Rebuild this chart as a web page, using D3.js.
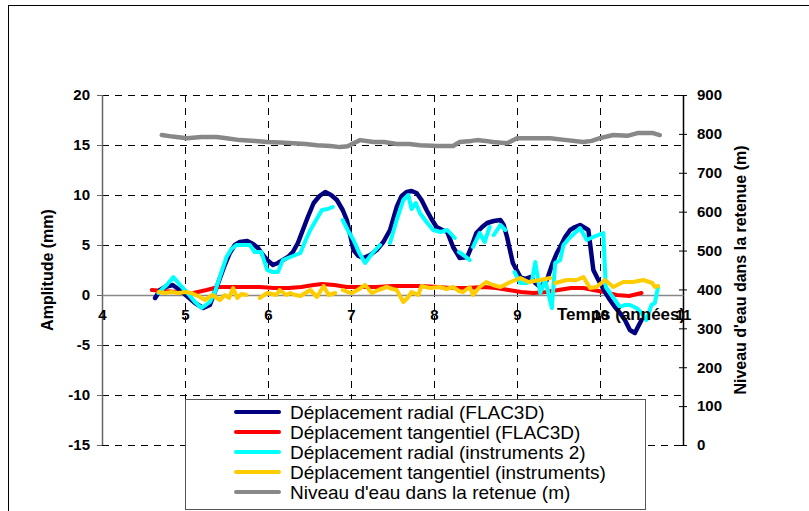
<!DOCTYPE html>
<html>
<head>
<meta charset="utf-8">
<script src="https://cdn.jsdelivr.net/npm/d3@7"></script>
<style>
  html, body { margin: 0; padding: 0; background: #fff; }
  svg { display: block; }
  text { font-family: "Liberation Sans", Arial, sans-serif; }
</style>
</head>
<body>
<svg id="chart" width="809" height="511"></svg>
<script>
// ---------------- DATA ----------------
const xTicks = [4, 5, 6, 7, 8, 9, 10, 11];
const yLeftTicks = [-15, -10, -5, 0, 5, 10, 15, 20];
const yRightTicks = [0, 100, 200, 300, 400, 500, 600, 700, 800, 900];

const seriesNames = [
  "Déplacement radial (FLAC3D)",
  "Déplacement tangentiel (FLAC3D)",
  "Déplacement radial (instruments 2)",
  "Déplacement tangentiel (instruments)",
  "Niveau d'eau dans la retenue (m)"
];
const seriesColors = ["#000080", "#ff0000", "#00ffff", "#ffcc00", "#888888"];

// Déplacement radial (FLAC3D)
const radialFlacT = [4.64, 4.70, 4.76, 4.85, 4.92, 4.98, 5.05, 5.12, 5.22, 5.30, 5.40, 5.47, 5.54, 5.60, 5.66, 5.75, 5.82, 5.88, 5.94, 5.99, 6.06, 6.12, 6.18, 6.24, 6.30, 6.36, 6.42, 6.48, 6.55, 6.62, 6.69, 6.76, 6.83, 6.90, 6.95, 7.03, 7.09, 7.15, 7.23, 7.31, 7.39, 7.47, 7.55, 7.61, 7.67, 7.73, 7.79, 7.85, 7.91, 7.97, 8.03, 8.10, 8.16, 8.23, 8.31, 8.40, 8.45, 8.51, 8.58, 8.64, 8.72, 8.80, 8.84, 8.88, 8.95, 9.04, 9.10, 9.17, 9.22, 9.28, 9.36, 9.43, 9.48, 9.52, 9.58, 9.64, 9.70, 9.76, 9.86, 9.92, 9.98, 10.06, 10.12, 10.18, 10.24, 10.30, 10.36, 10.42, 10.50];
const radialFlacV = [-0.3, 0.5, 0.8, 1.0, 0.6, 0.2, -0.3, -0.8, -1.3, -1.0, 1.2, 2.8, 4.2, 5.0, 5.3, 5.4, 5.1, 4.7, 4.0, 3.5, 3.0, 3.2, 3.5, 3.8, 4.3, 5.2, 6.5, 7.8, 9.2, 9.9, 10.3, 10.0, 9.5, 8.5, 7.5, 4.5, 3.9, 3.7, 4.0, 4.5, 5.3, 6.5, 8.8, 9.9, 10.3, 10.4, 10.2, 9.5, 8.5, 7.6, 6.8, 6.5, 6.3, 4.8, 3.7, 3.8, 4.8, 6.2, 6.8, 7.2, 7.4, 7.5, 7.0, 5.8, 3.2, 1.8, 1.6, 1.8, 1.2, 0.8, 1.5, 3.2, 4.2, 4.8, 5.8, 6.5, 6.8, 7.0, 6.5, 2.5, 1.5, 0.3, -0.5, -1.2, -1.8, -2.5, -3.5, -3.8, -2.5];

// Déplacement tangentiel (FLAC3D)
const tangFlacT = [4.60, 4.75, 4.90, 5.00, 5.10, 5.26, 5.40, 5.55, 5.70, 5.90, 6.07, 6.25, 6.40, 6.55, 6.65, 6.80, 6.95, 7.10, 7.30, 7.50, 7.67, 7.85, 8.05, 8.20, 8.40, 8.60, 8.75, 8.90, 9.05, 9.20, 9.35, 9.50, 9.65, 9.80, 9.92, 10.05, 10.20, 10.35, 10.50];
const tangFlacV = [0.5, 0.4, 0.3, 0.2, 0.2, 0.5, 0.8, 0.8, 0.8, 0.8, 0.7, 0.7, 0.8, 1.0, 1.1, 1.0, 0.8, 0.8, 0.8, 0.9, 0.9, 0.9, 0.8, 0.7, 0.7, 0.8, 0.7, 0.5, 0.3, 0.2, 0.3, 0.5, 0.7, 0.7, 0.5, 0.3, 0.0, -0.1, 0.2];

// Déplacement radial (instruments 2)  (null = gap)
const radialInstT = [4.68, 4.74, 4.78, 4.86, 4.94, 5.02, 5.12, 5.20, 5.30, 5.36, 5.42, 5.50, 5.56, 5.62, 5.70, 5.78, 5.84, 5.92, 5.99, 6.06, 6.12, 6.18, 6.27, 6.33, 6.39, 6.45, 6.51, 6.58, 6.65, 6.72, 6.78, 6.84, 6.90, 6.96, 7.03, 7.10, 7.17, 7.26, 7.35, 7.41, 7.47, 7.55, 7.63, 7.69, 7.73, 7.78, 7.83, 7.91, 7.99, 8.08, 8.16, 8.25, 8.27, 8.30, 8.37, 8.43, 8.45, 8.47, 8.55, 8.61, 8.67, 8.69, 8.72, 8.80, 8.86, 8.92, 8.97, 9.04, 9.12, 9.18, 9.22, 9.28, 9.34, 9.42, 9.46, 9.52, 9.56, 9.62, 9.67, 9.76, 9.84, 9.92, 10.04, 10.07, 10.12, 10.18, 10.24, 10.30, 10.36, 10.44, 10.50, 10.56, 10.62, 10.66, 10.70];
const radialInstV = [0.2, 0.7, 1.0, 1.8, 1.0, 0.3, -0.7, -1.3, -0.7, 0.3, 1.8, 3.8, 4.6, 5.0, 5.0, 5.0, 4.3, 4.3, 2.5, 2.3, 2.3, 3.5, 3.8, 4.0, 4.2, 5.4, 6.5, 7.5, 8.5, 8.6, 8.8, null, 7.5, 6.5, 5.5, 4.2, 3.2, 4.2, 5.0, null, 5.2, 7.5, 9.5, 10.0, 8.6, 9.2, 8.2, 7.3, 6.5, 6.3, 6.5, 5.7, null, 4.3, 3.9, 3.5, null, 4.8, 6.2, 5.3, 6.8, null, 6.0, 7.0, 6.5, null, 2.3, 1.2, 1.2, 1.4, 3.3, 0.2, 1.5, -1.3, 3.2, 3.5, 5.0, 5.6, 6.0, 6.7, 5.5, 5.8, 6.2, 0.8, 0.2, -0.5, -1.2, -1.0, -1.0, -1.3, -1.8, -2.5, -1.0, -0.8, 0.8];

// Déplacement tangentiel (instruments)  (null = gap)
const tangInstT = [4.68, 4.76, 4.84, 4.92, 5.00, 5.08, 5.18, 5.24, 5.33, 5.42, 5.48, 5.53, 5.58, 5.63, 5.68, 5.74, 5.80, 5.90, 5.99, 6.05, 6.10, 6.14, 6.22, 6.27, 6.33, 6.39, 6.45, 6.51, 6.59, 6.67, 6.73, 6.81, 6.86, 6.90, 6.96, 7.01, 7.08, 7.17, 7.25, 7.33, 7.43, 7.50, 7.55, 7.63, 7.68, 7.73, 7.81, 7.85, 7.95, 8.07, 8.15, 8.23, 8.30, 8.35, 8.43, 8.47, 8.55, 8.63, 8.71, 8.80, 8.92, 9.04, 9.14, 9.28, 9.40, 9.43, 9.46, 9.60, 9.72, 9.80, 9.88, 9.96, 10.06, 10.16, 10.28, 10.40, 10.52, 10.63, 10.66, 10.70];
const tangInstV = [0.3, 0.2, 0.3, 0.2, 0.3, 0.2, -0.2, -0.5, 0.0, -0.5, 0.0, -0.3, 0.7, -0.3, 0.1, 0.0, null, -0.3, 0.2, 0.1, 0.0, 0.5, 0.0, 0.2, 0.0, -0.1, 0.2, 0.5, -0.2, 0.9, 0.0, 0.2, null, 0.5, 0.3, 0.2, 0.5, 1.0, 0.2, 0.5, 0.8, 0.6, 0.5, -0.7, -0.3, 0.3, 0.0, 0.9, 0.7, 0.8, 0.6, 0.8, 0.4, 0.3, 0.8, 0.0, 0.8, 1.3, 1.0, 0.8, 1.3, 1.7, 1.3, 1.5, 1.7, null, 1.2, 1.5, 1.5, 1.8, 0.7, 0.8, 1.5, 0.8, 1.3, 1.3, 1.5, 1.2, 0.8, 0.9];

// Niveau d'eau dans la retenue (m) — right axis
const waterT = [4.72, 4.85, 5.02, 5.20, 5.38, 5.50, 5.66, 5.85, 5.99, 6.15, 6.30, 6.45, 6.59, 6.75, 6.87, 6.96, 7.05, 7.11, 7.27, 7.40, 7.55, 7.70, 7.83, 8.04, 8.23, 8.31, 8.45, 8.52, 8.62, 8.71, 8.88, 9.00, 9.19, 9.40, 9.60, 9.80, 9.90, 10.00, 10.16, 10.33, 10.45, 10.64, 10.72];
const waterV = [797, 793, 789, 792, 792, 789, 784, 782, 779, 778, 776, 774, 771, 769, 766, 768, 778, 784, 779, 779, 774, 774, 771, 769, 769, 779, 782, 784, 782, 779, 776, 789, 789, 789, 784, 779, 782, 789, 797, 795, 802, 802, 797];

const xTitle = "Temps (années)";
const yLeftTitle = "Amplitude (mm)";
const yRightTitle = "Niveau d'eau dans la retenue (m)";

// ---------------- CHART ----------------
const svg = d3.select("#chart");
const x = d3.scaleLinear().domain([4, 11]).range([102, 683]);
const yL = d3.scaleLinear().domain([-15, 20]).range([445, 95]);
const yR = d3.scaleLinear().domain([0, 900]).range([445, 95]);
const fmt = d => String(d); // plain hyphen-minus like the original

// outer frame
svg.append("rect").attr("x", 8.5).attr("y", 5.5).attr("width", 1000).attr("height", 1000)
  .attr("fill", "none").attr("stroke", "#000").attr("stroke-width", 1);

// gridlines
const grid = svg.append("g").attr("stroke", "#000").attr("stroke-width", 1).attr("stroke-dasharray", "7,6");
yLeftTicks.filter(d => d !== 0).forEach(d => {
  grid.append("line").attr("x1", x(4)).attr("x2", x(11))
    .attr("y1", Math.round(yL(d)) + 0.5).attr("y2", Math.round(yL(d)) + 0.5);
});
xTicks.filter(d => d > 4 && d < 11).forEach(d => {
  grid.append("line").attr("y1", yL(20)).attr("y2", yL(-15))
    .attr("x1", Math.round(x(d)) + 0.5).attr("x2", Math.round(x(d)) + 0.5);
});

// left axis
const axL = svg.append("g").attr("transform", `translate(${x(4)},0)`)
  .call(d3.axisLeft(yL).tickValues(yLeftTicks).tickSize(5).tickPadding(7).tickFormat(fmt));
axL.select(".domain").remove();
axL.selectAll(".tick line").attr("stroke", "#666");
axL.selectAll("text").attr("font-size", 15).attr("font-weight", "bold").attr("fill", "#000")
  .style("font-family", "'Liberation Sans', Arial, sans-serif");
svg.append("line").attr("x1", x(4) + 0.5).attr("x2", x(4) + 0.5).attr("y1", yL(20)).attr("y2", yL(-15))
  .attr("stroke", "#666").attr("stroke-width", 1.5);

// right axis
const axR = svg.append("g").attr("transform", `translate(${x(11)},0)`)
  .call(d3.axisRight(yR).tickValues(yRightTicks).tickSize(4).tickPadding(10).tickFormat(fmt));
axR.select(".domain").remove();
axR.selectAll(".tick line").attr("x1", -4).attr("x2", 4).attr("stroke", "#000");
axR.selectAll("text").attr("font-size", 15).attr("font-weight", "bold").attr("fill", "#000")
  .style("font-family", "'Liberation Sans', Arial, sans-serif");
svg.append("line").attr("x1", x(11) + 0.5).attr("x2", x(11) + 0.5).attr("y1", yR(900)).attr("y2", yR(0))
  .attr("stroke", "#000").attr("stroke-width", 1.5);

// x axis at y=0
const axX = svg.append("g").attr("transform", `translate(0,${yL(0)})`)
  .call(d3.axisBottom(x).tickValues(xTicks).tickSize(0).tickPadding(14).tickFormat(fmt));
axX.select(".domain").attr("stroke", "#888").attr("stroke-width", 1.5);
axX.selectAll("text").attr("font-size", 15).attr("font-weight", "bold").attr("fill", "#000")
  .style("font-family", "'Liberation Sans', Arial, sans-serif");

// series
function drawSeries(ts, vs, yScale, color, width) {
  const pts = ts.map((t, i) => [t, vs[i]]);
  const line = d3.line().defined(d => d[1] !== null).x(d => x(d[0])).y(d => yScale(d[1]));
  svg.append("path").datum(pts).attr("d", line).attr("fill", "none")
    .attr("stroke", color).attr("stroke-width", width)
    .attr("stroke-linejoin", "round").attr("stroke-linecap", "round");
}
drawSeries(waterT, waterV, yR, seriesColors[4], 4.5);
drawSeries(tangFlacT, tangFlacV, yL, seriesColors[1], 4);
drawSeries(radialFlacT, radialFlacV, yL, seriesColors[0], 4.5);
drawSeries(radialInstT, radialInstV, yL, seriesColors[2], 4);
drawSeries(tangInstT, tangInstV, yL, seriesColors[3], 4);

// axis titles
svg.append("text").attr("x", 557).attr("y", 320).attr("font-size", 17).attr("font-weight", "bold")
  .text(xTitle);
svg.append("text").attr("transform", `translate(47,${(yL(20) + yL(-15)) / 2}) rotate(-90)`)
  .attr("text-anchor", "middle").attr("dominant-baseline", "central")
  .attr("font-size", 16).attr("font-weight", "bold").text(yLeftTitle);
svg.append("text").attr("transform", `translate(740,${(yR(900) + yR(0)) / 2}) rotate(-90)`)
  .attr("text-anchor", "middle").attr("dominant-baseline", "central")
  .attr("font-size", 16).attr("font-weight", "bold").text(yRightTitle);

// legend
const lg = svg.append("g");
lg.append("rect").attr("x", 185.5).attr("y", 399.5).attr("width", 460).attr("height", 110)
  .attr("fill", "#fff").attr("stroke", "#555").attr("stroke-width", 1);
seriesNames.forEach((name, i) => {
  const yy = 412 + i * 20;
  lg.append("line").attr("x1", 236).attr("x2", 279).attr("y1", yy).attr("y2", yy)
    .attr("stroke", seriesColors[i]).attr("stroke-width", 4).attr("stroke-linecap", "round");
  lg.append("text").attr("x", 290).attr("y", yy).attr("dominant-baseline", "central")
    .attr("font-size", 19).text(name);
});
</script>
</body>
</html>
